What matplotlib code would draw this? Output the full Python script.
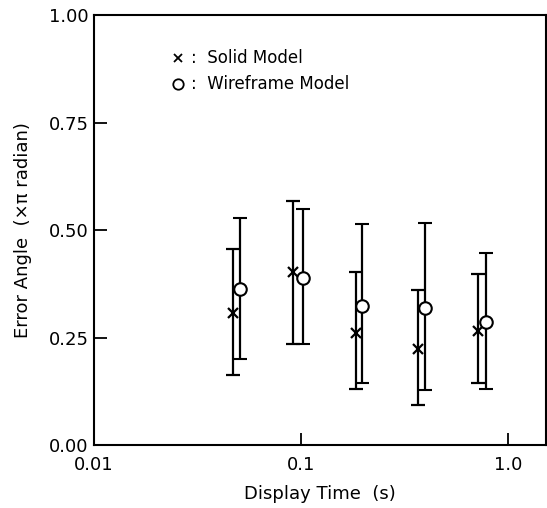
import matplotlib
matplotlib.use("Agg")
import matplotlib.pyplot as plt

# Data
solid_time = [0.047, 0.0914, 0.184, 0.368, 0.72]
solid_err = [0.306, 0.403, 0.260, 0.223, 0.266]
solid_hi = [0.456, 0.567, 0.402, 0.360, 0.397]
solid_lo = [0.164, 0.234, 0.130, 0.093, 0.145]

wire_time = [0.051, 0.102, 0.198, 0.400, 0.787]
wire_err = [0.364, 0.389, 0.323, 0.318, 0.287]
wire_hi = [0.529, 0.549, 0.514, 0.516, 0.447]
wire_lo = [0.200, 0.234, 0.145, 0.128, 0.130]

x_ticks = [0.01, 0.1, 1.0]
x_ticklabels = ["0.01", "0.1", "1.0"]
y_ticks = [0.0, 0.25, 0.5, 0.75, 1.0]
y_ticklabels = ["0.00", "0.25", "0.50", "0.75", "1.00"]

plt.rcParams['font.family'] = ['DejaVu Sans']

fig = plt.figure(figsize=(5.47, 5.08), dpi=100)
ax = fig.add_axes([0.172, 0.124, 0.826, 0.846])

def errs(v, hi, lo):
    return [[a - b for a, b in zip(v, lo)], [b - a for a, b in zip(v, hi)]]

ax.errorbar(solid_time, solid_err, yerr=errs(solid_err, solid_hi, solid_lo),
            fmt='x', color='black', ecolor='black', elinewidth=1.6, capsize=5,
            capthick=1.6, markersize=7, markeredgewidth=1.6, zorder=3)
ax.errorbar(wire_time, wire_err, yerr=errs(wire_err, wire_hi, wire_lo),
            fmt='o', color='black', ecolor='black', elinewidth=1.6, capsize=5,
            capthick=1.6, markersize=9, markerfacecolor='white',
            markeredgewidth=1.5, zorder=4)

ax.set_xscale('log')
ax.set_xlim(0.01, 1.53)
ax.set_ylim(0.0, 1.0)
ax.set_xticks(x_ticks)
ax.set_xticklabels(x_ticklabels)
ax.set_yticks(y_ticks)
ax.set_yticklabels(y_ticklabels)
ax.minorticks_off()
ax.tick_params(axis='both', direction='in', length=9, width=1.3,
               labelsize=13)
ax.tick_params(axis='x', pad=8)
ax.tick_params(axis='y', pad=4)
for s in ax.spines.values():
    s.set_linewidth(1.5)

ax.set_xlabel("Display Time  (s)", fontsize=13, labelpad=8)
ax.set_ylabel("Error Angle  (×π radian)", fontsize=13, labelpad=12)

# legend as markers + text
ax.plot([0.186], [0.90], 'x', color='black', markersize=6, markeredgewidth=1.3,
        transform=ax.transAxes, clip_on=False)
ax.plot([0.186], [0.84], 'o', color='black', markersize=7.5, markerfacecolor='white',
        markeredgewidth=1.3, transform=ax.transAxes, clip_on=False)
ax.text(0.215, 0.90, ":  Solid Model", transform=ax.transAxes, fontsize=12,
        va='center', ha='left')
ax.text(0.215, 0.84, ":  Wireframe Model", transform=ax.transAxes, fontsize=12,
        va='center', ha='left')

fig.savefig("out.png", dpi=100)
